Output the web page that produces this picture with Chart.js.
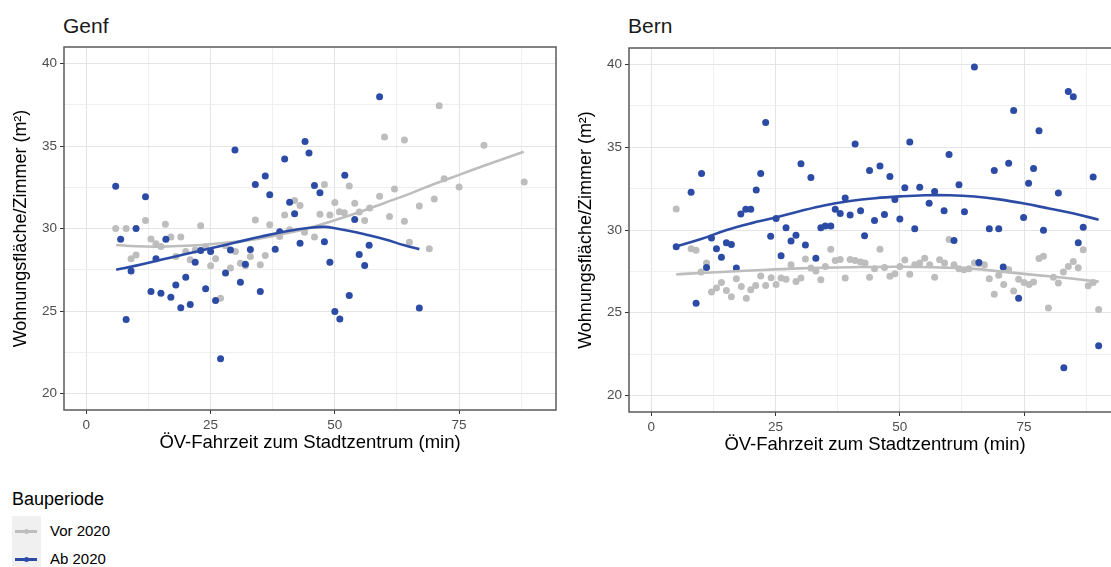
<!DOCTYPE html>
<html><head><meta charset="utf-8">
<script src="https://cdn.jsdelivr.net/npm/chart.js@4.4.1/dist/chart.umd.min.js"></script>
<style>
html,body{margin:0;padding:0;width:1111px;height:567px;overflow:hidden;background:#fff;font-family:"Liberation Sans",Arial,sans-serif;}
canvas{position:absolute;}
.t{position:absolute;line-height:1;color:#1a1a1a;white-space:nowrap;}
.k{position:absolute;}
</style></head><body>
<div class="t" style="left:63px;top:15px;font-size:21px">Genf</div>
<div class="t" style="left:628px;top:15px;font-size:21px">Bern</div>
<canvas id="c1" width="560" height="470" style="left:0;top:0;width:560px;height:470px"></canvas>
<canvas id="c2" width="560" height="472" style="left:565px;top:0;width:560px;height:472px"></canvas>

<div class="t" style="left:12px;top:490px;font-size:18px;color:#000">Bauperiode</div>
<div class="k" style="left:12px;top:516px;width:29px;height:60px;background:#f0f0f0"></div>
<div class="k" style="left:15px;top:530px;width:22px;height:2.5px;background:#bdbdbd"></div>
<div class="k" style="left:23.5px;top:528.5px;width:5px;height:5px;border-radius:50%;background:#bdbdbd"></div>
<div class="k" style="left:15px;top:558px;width:22px;height:2.5px;background:#2c4ba5"></div>
<div class="k" style="left:23.5px;top:556.5px;width:5px;height:5px;border-radius:50%;background:#2c4ba5"></div>
<div class="t" style="left:50px;top:523px;font-size:15px;color:#000">Vor 2020</div>
<div class="t" style="left:50px;top:551px;font-size:15px;color:#000">Ab 2020</div>

<script>
// ---------- data ----------
const seriesNames = ['Vor 2020', 'Ab 2020'];
const xTicks = [0, 25, 50, 75];
const xTickLabels = ['0', '25', '50', '75'];
const yTicks = [20, 25, 30, 35, 40];
const yTickLabels = ['20', '25', '30', '35', '40'];

const genfVor = [[5.9,30.0],[8.0,30.0],[11.9,30.48],[15.9,30.26],[23.0,30.16],[34.0,30.52],[36.9,30.22],[41.9,31.69],[43.0,31.39],[39.9,30.82],[71.0,37.44],[60.0,35.54],[64.0,35.36],[80.0,35.04],[47.9,32.66],[52.9,32.58],[62.0,32.40],[72.0,33.02],[75.0,32.52],[88.1,32.82],[59.0,31.95],[70.0,31.79],[67.0,31.37],[50.0,31.57],[54.0,31.53],[57.0,31.25],[54.9,31.0],[50.9,31.02],[51.9,30.96],[49.0,30.82],[47.0,30.86],[56.0,30.48],[61.0,30.72],[64.0,30.44],[40.9,29.92],[43.9,29.78],[13.0,29.37],[14.0,29.07],[15.0,28.91],[17.0,29.48],[19.0,29.48],[9.0,28.16],[10.0,28.40],[18.0,28.3],[20.0,28.6],[20.9,28.1],[21.9,28.7],[24.0,28.9],[26.0,28.16],[25.0,27.74],[28.0,28.95],[30.0,28.6],[31.0,27.9],[32.0,27.74],[29.0,27.6],[33.0,28.3],[36.0,28.36],[35.0,27.8],[38.9,29.51],[27.0,25.78],[45.9,29.49],[65.0,29.17],[69.0,28.77]];
const genfAb = [[5.9,32.56],[11.9,31.93],[29.9,34.76],[34.0,32.66],[36.0,33.18],[39.9,34.21],[36.9,32.05],[40.9,31.59],[41.9,30.9],[44.0,35.28],[44.8,34.57],[10.0,30.0],[59.0,37.98],[45.9,32.6],[47.0,32.17],[52.0,33.22],[54.0,30.54],[6.9,29.35],[16.0,29.35],[14.0,28.16],[9.0,27.43],[8.0,24.49],[13.0,26.18],[15.0,26.08],[17.0,25.84],[18.0,26.57],[19.0,25.2],[20.0,27.05],[20.9,25.4],[21.9,27.96],[23.0,28.66],[24.0,26.35],[25.0,28.6],[26.0,25.64],[27.0,22.11],[28.0,27.31],[29.0,28.7],[31.0,26.74],[32.0,27.84],[33.0,28.72],[35.0,26.18],[38.0,28.75],[38.9,29.81],[43.0,29.11],[47.9,29.19],[49.0,27.96],[54.9,28.42],[56.9,28.99],[56.0,27.76],[52.9,25.94],[50.0,24.97],[51.0,24.51],[67.0,25.18]];
const genfVorFitX = [6,10,15,20,25,30,35,40,45,50,55,60,65,70,75,80,88];
const genfVorFitY = [29.0,28.92,28.9,28.95,29.05,29.2,29.4,29.7,30.05,30.5,31.0,31.55,32.1,32.7,33.25,33.8,34.65];
const genfAbFitX = [6,10,15,20,25,30,35,40,45,48,50,53,56,60,64,67];
const genfAbFitY = [27.5,27.75,28.1,28.45,28.8,29.15,29.5,29.82,30.05,30.1,30.02,29.85,29.65,29.35,28.98,28.75];

const bernVor = [[5.0,31.27],[8.0,28.87],[9.0,28.77],[11.1,28.0],[10.0,27.46],[12.1,26.25],[13.1,26.49],[14.1,26.82],[15.1,26.35],[16.1,25.97],[17.1,27.06],[18.1,26.59],[19.1,25.88],[20.0,26.39],[21.0,26.65],[22.0,27.22],[23.0,26.65],[24.1,27.12],[25.1,26.7],[26.1,27.1],[27.1,27.03],[28.1,27.9],[29.1,26.89],[30.1,27.1],[31.0,28.24],[32.1,27.7],[33.1,27.52],[34.1,27.0],[35.0,27.8],[36.1,28.83],[37.0,28.16],[38.0,28.22],[39.0,27.1],[40.0,28.22],[41.0,28.16],[42.1,28.06],[43.0,28.0],[43.9,27.15],[44.9,27.66],[46.0,28.83],[46.9,27.74],[48.0,27.2],[49.0,27.36],[50.0,27.8],[51.0,28.18],[52.0,27.33],[53.0,27.9],[54.0,28.0],[55.0,28.3],[56.0,27.9],[57.0,27.15],[58.0,28.2],[59.0,28.0],[59.9,29.42],[60.9,27.9],[61.9,27.66],[62.9,27.6],[63.9,27.66],[65.0,28.0],[66.0,27.96],[67.0,27.9],[68.0,27.06],[69.0,26.11],[69.9,27.26],[70.9,26.7],[71.9,27.6],[72.9,26.31],[73.9,27.02],[75.0,26.82],[76.0,26.71],[76.9,26.85],[78.0,28.27],[78.9,28.41],[79.9,25.28],[80.9,27.15],[81.9,26.79],[82.9,27.46],[83.9,27.8],[84.9,28.1],[85.9,27.72],[86.9,28.81],[87.9,26.63],[88.9,26.82],[90.0,25.2]];
const bernAb = [[23.0,36.49],[10.1,33.41],[8.0,32.28],[21.1,32.42],[22.0,33.41],[18.0,30.97],[19.0,31.25],[20.0,31.25],[25.1,30.7],[27.1,30.14],[30.1,34.01],[32.1,33.17],[34.1,30.14],[35.0,30.24],[36.1,30.24],[37.0,31.25],[38.0,31.0],[39.0,31.93],[40.0,30.9],[41.0,35.2],[42.1,31.17],[43.9,33.59],[44.9,30.57],[65.0,39.85],[83.9,38.37],[84.9,38.06],[72.9,37.22],[78.0,36.0],[52.0,35.32],[59.9,34.56],[46.0,33.87],[48.0,33.23],[69.0,33.59],[71.9,34.03],[76.9,33.71],[75.9,32.82],[88.9,33.2],[51.0,32.56],[54.0,32.58],[57.0,32.32],[61.9,32.74],[49.0,31.85],[55.9,31.61],[81.9,32.23],[46.9,30.93],[50.0,30.66],[58.9,31.17],[63.0,31.11],[74.9,30.76],[53.0,30.08],[68.0,30.08],[69.9,30.08],[78.9,29.98],[86.9,30.16],[5.0,28.99],[12.1,29.51],[13.1,28.87],[14.1,28.36],[15.1,29.23],[16.1,29.13],[17.1,27.7],[11.1,27.74],[9.0,25.58],[24.0,29.62],[26.1,28.45],[28.1,29.33],[29.1,29.68],[31.0,29.09],[33.1,28.29],[42.9,29.66],[60.9,29.36],[65.9,28.04],[70.8,27.76],[73.9,25.88],[83.0,21.68],[85.9,29.23],[90.0,23.0]];
const bernVorFitX = [5,10,20,30,40,50,60,65,70,75,80,85,90];
const bernVorFitY = [27.32,27.4,27.55,27.68,27.75,27.78,27.72,27.65,27.5,27.35,27.2,27.05,26.88];
const bernAbFitX = [5,10,15,20,25,30,35,40,45,50,55,60,65,70,75,80,85,90];
const bernAbFitY = [29.0,29.45,29.98,30.4,30.75,31.15,31.5,31.75,31.92,32.03,32.1,32.1,32.02,31.85,31.6,31.3,31.0,30.62];

// ---------- style ----------
const FONT = '"Liberation Sans", Arial, sans-serif';
const GRAY = '#bdbdbd';
const BLUE = '#2c4ba5';
const X_MIN = -4.5, X_MAX = 94.5, Y_MIN = 19, Y_MAX = 41;

Chart.defaults.font.family = FONT;

function withMinor(major, lo, hi) {
  const step = major[1] - major[0];
  const out = [];
  for (let v = major[0]; v <= hi + 1e-9; v += step / 2) if (v >= lo) out.push(+v.toFixed(3));
  return out;
}
const pts = arr => arr.map(([x, y]) => ({x, y}));
const fit = (xs, ys) => xs.map((x, i) => ({x, y: ys[i]}));

const panelBorder = {
  id: 'panelBorder',
  afterDraw(chart) {
    const {ctx, chartArea: a} = chart;
    ctx.save();
    ctx.strokeStyle = '#5a5a5a';
    ctx.lineWidth = 1.5;
    ctx.strokeRect(a.left, a.top, a.right - a.left, a.bottom - a.top);
    ctx.restore();
  }
};

function makePanel(id, vor, ab, vorFit, abFit, topPad) {
  const xAll = withMinor(xTicks, X_MIN, X_MAX);
  const yAll = withMinor(yTicks, Y_MIN, Y_MAX);
  const isMajX = v => xTicks.includes(v);
  const isMajY = v => yTicks.includes(v);
  return new Chart(document.getElementById(id), {
    type: 'scatter',
    data: {
      datasets: [
        {label: seriesNames[1] + ' fit', data: abFit, showLine: true, borderColor: BLUE, borderWidth: 2.6, pointRadius: 0, tension: 0.4, order: 0},
        {label: seriesNames[0] + ' fit', data: vorFit, showLine: true, borderColor: GRAY, borderWidth: 2.6, pointRadius: 0, tension: 0.4, order: 1},
        {label: seriesNames[1], data: ab, backgroundColor: BLUE, borderWidth: 0, pointRadius: 3.5, order: 2},
        {label: seriesNames[0], data: vor, backgroundColor: GRAY, borderWidth: 0, pointRadius: 3.5, order: 3}
      ]
    },
    options: {
      responsive: false, animation: false, events: [],
      layout: {padding: {top: topPad, right: 3, left: 0, bottom: 0}},
      plugins: {legend: {display: false}, tooltip: {enabled: false}},
      scales: {
        x: {
          type: 'linear', min: X_MIN, max: X_MAX,
          afterBuildTicks: s => { s.ticks = xAll.map(v => ({value: v})); },
          afterFit: s => { s.height = 60; },
          border: {display: false},
          grid: {
            color: c => isMajX(c.tick.value) ? '#e4e4e4' : '#efefef', lineWidth: 1,
            tickLength: 4, tickColor: c => isMajX(c.tick.value) ? '#333' : 'rgba(0,0,0,0)'
          },
          ticks: {
            autoSkip: false, maxRotation: 0, padding: 3, color: '#4d4d4d', font: {size: 13.5},
            callback: v => { const i = xTicks.indexOf(v); return i >= 0 ? xTickLabels[i] : ''; }
          },
          title: {display: true, text: 'ÖV-Fahrzeit zum Stadtzentrum (min)', color: '#000', font: {size: 18.5}, padding: 16}
        },
        y: {
          type: 'linear', min: Y_MIN, max: Y_MAX,
          afterBuildTicks: s => { s.ticks = yAll.map(v => ({value: v})); },
          afterFit: s => { s.width = 64; },
          border: {display: false},
          grid: {
            color: c => isMajY(c.tick.value) ? '#e4e4e4' : '#efefef', lineWidth: 1,
            tickLength: 4, tickColor: c => isMajY(c.tick.value) ? '#333' : 'rgba(0,0,0,0)'
          },
          ticks: {
            autoSkip: false, padding: 3, color: '#4d4d4d', font: {size: 13.5},
            callback: v => { const i = yTicks.indexOf(v); return i >= 0 ? yTickLabels[i] : ''; }
          },
          title: {display: true, text: 'Wohnungsfläche/Zimmer (m²)', color: '#000', font: {size: 18}, padding: 10}
        }
      }
    },
    plugins: [panelBorder]
  });
}

makePanel('c1', pts(genfVor), pts(genfAb), fit(genfVorFitX, genfVorFitY), fit(genfAbFitX, genfAbFitY), 47);
makePanel('c2', pts(bernVor), pts(bernAb), fit(bernVorFitX, bernVorFitY), fit(bernAbFitX, bernAbFitY), 48);
</script>
</body></html>
